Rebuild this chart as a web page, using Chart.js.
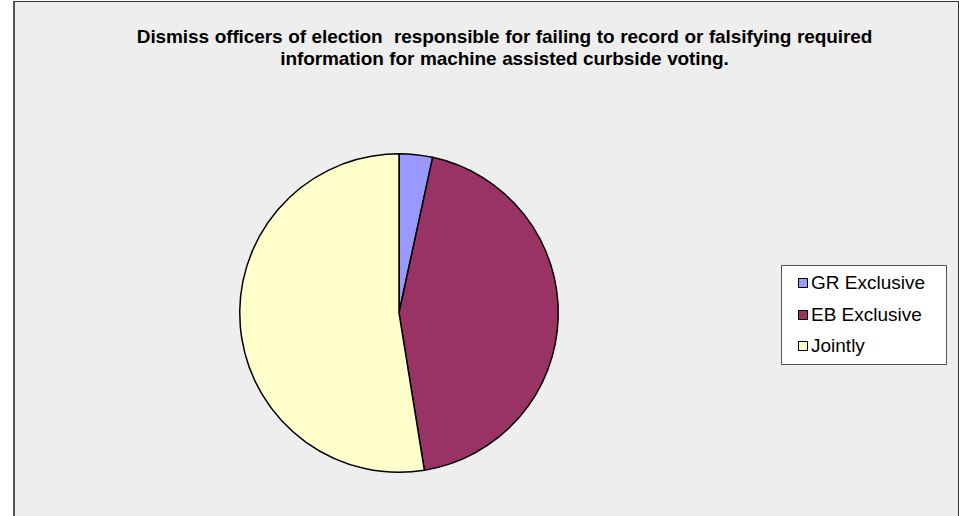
<!DOCTYPE html>
<html>
<head>
<meta charset="utf-8">
<script src="https://cdn.jsdelivr.net/npm/chart.js@4/dist/chart.umd.min.js"></script>
<style>
  body { margin: 0; background: #ffffff; font-family: "Liberation Sans", Arial, sans-serif; }
  #frame {
    position: absolute; left: 13px; top: 1px; width: 943px; height: 530px;
    background: #eeeeee; border: 1px solid #333; border-left: 2px solid #555;
  }
  #title {
    position: absolute; left: 0; top: 26px; width: 1009px; text-align: center;
    font-weight: bold; font-size: 19px; line-height: 22px; color: #000;
    letter-spacing: -0.1px; word-spacing: 0.5px;
  }
  #pieBox { position: absolute; left: 236px; top: 150px; width: 326px; height: 326px; }
  #legend {
    position: absolute; left: 781px; top: 265px; width: 164px; height: 98px;
    background: #fff; border: 1px solid #555; font-size: 19px; color: #000;
  }
  .item { position: absolute; left: 16px; height: 22px; line-height: 22px; white-space: nowrap; }
  .sw { display: inline-block; width: 8px; height: 8px; border: 1.5px solid #000; margin-right: 3px; vertical-align: 1px; }
</style>
</head>
<body>
<div id="frame"></div>
<div id="title">Dismiss officers of election&nbsp; responsible for failing to record or falsifying required<br>information for machine assisted curbside voting.</div>
<div id="pieBox"><canvas id="pieChart"></canvas></div>
<div id="legend"></div>
<script>
const categories = ['GR Exclusive', 'EB Exclusive', 'Jointly'];
const counts = [2, 26, 31];
const sliceColors = ['#9999ff', '#993366', '#ffffcc'];

// legend (html)
const legendBox = document.getElementById('legend');
categories.forEach((name, i) => {
    const div = document.createElement('div');
    div.className = 'item';
    div.style.top = (6 + i * 31.5) + 'px';
    div.innerHTML = `<span class="sw" style="background:${sliceColors[i]}"></span>${name}`;
    legendBox.appendChild(div);
});

new Chart(document.getElementById('pieChart'), {
    type: 'pie',
    data: {
        labels: categories,
        datasets: [{
            data: counts,
            backgroundColor: sliceColors,
            borderColor: '#000',
            borderWidth: 1.5
        }]
    },
    options: {
        responsive: true,
        maintainAspectRatio: false,
        animation: false,
        layout: { padding: 3 },
        plugins: {
            legend: { display: false },
            tooltip: { enabled: false }
        }
    }
});
</script>
</body>
</html>
